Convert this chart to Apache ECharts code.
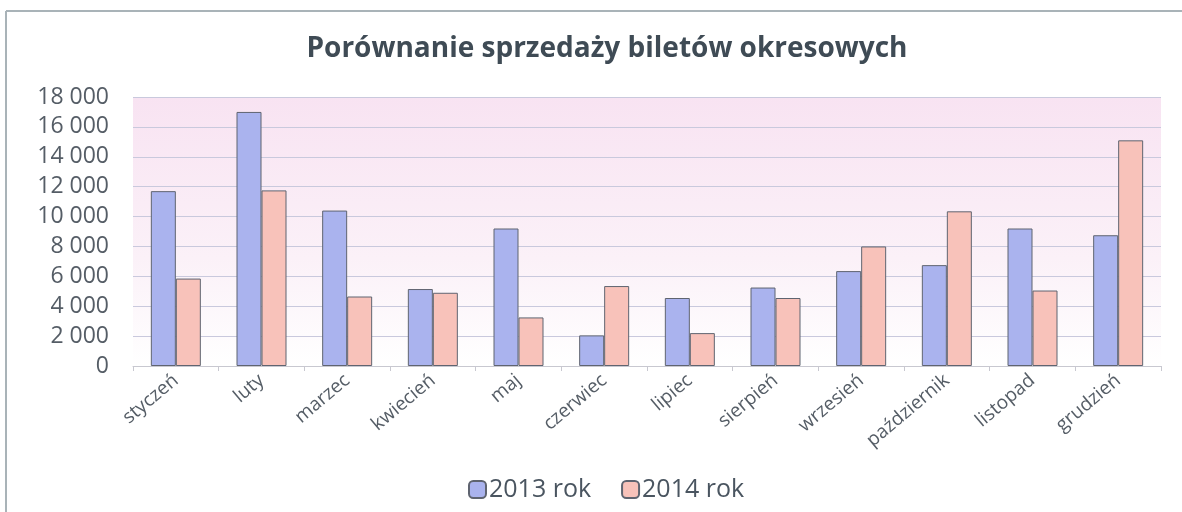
<!DOCTYPE html>
<html><head><meta charset="utf-8">
<script src="https://cdn.jsdelivr.net/npm/echarts@6/dist/echarts.min.js"></script>
<style>html,body{margin:0;padding:0;background:#fff}#c{width:1182px;height:512px}</style>
</head><body><div id="c"></div>
<script>
const categories = ['styczeń','luty','marzec','kwiecień','maj','czerwiec','lipiec','sierpień','wrzesień','październik','listopad','grudzień'];
const series2013 = [11700,17000,10400,5150,9200,2050,4550,5250,6350,6750,9200,8750];
const series2014 = [5850,11750,4650,4900,3250,5350,2200,4550,8000,10350,5050,15100];
const seriesNames = ['2013 rok','2014 rok'];
const titleText = 'Porównanie sprzedaży biletów okresowych';

const chart = echarts.init(document.getElementById('c'));
const font = 'Open Sans, DejaVu Sans, sans-serif';
chart.setOption({
  backgroundColor: '#fff',
  animation: false,
  title: {text: titleText, left: 602, top: 30, textAlign: 'center',
    textStyle: {fontFamily: font, fontSize: 28, fontWeight: 'bold', color: '#3f4b55'}},
  legend: {top: 472, left: 463, itemWidth: 17, itemHeight: 17, itemGap: 30,
    textStyle: {fontFamily: font, fontSize: 25, color: '#4a5560', padding: [0,0,0,-2]},
    data: seriesNames},
  grid: {left: 133, right: 21, top: 97, bottom: 146, containLabel: false,
    show: true, borderWidth: 0,
    backgroundColor: new echarts.graphic.LinearGradient(0,0,0,1,[
      {offset:0,color:'#f8e3f2'},{offset:0.6,color:'#fbf1f8'},{offset:1,color:'#ffffff'}])},
  xAxis: {type: 'category', data: categories,
    axisLine: {lineStyle: {color: '#c8c8d0'}},
    axisTick: {show: true, lineStyle: {color: '#c8c8d0'}},
    axisLabel: {rotate: 40, fontFamily: font, fontSize: 19, color: '#555d66', margin: 12, interval: 0}},
  yAxis: {type: 'value', min: 0, max: 18000, interval: 2000,
    axisLine: {show: false}, axisTick: {show: false},
    axisLabel: {fontFamily: font, fontSize: 23, color: '#555d66', margin: 24,
      formatter: v => v === 0 ? '0' : v.toString().replace(/\B(?=(\d{3})+(?!\d))/g, ' ')},
    splitLine: {lineStyle: {color: '#c9c9dd', width: 1}}},
  series: [
    {name: seriesNames[0], type: 'bar', data: series2013, barWidth: 25, barGap: '0%',
      itemStyle: {color: '#aab3ee', borderColor: '#5f6470', borderWidth: 1}},
    {name: seriesNames[1], type: 'bar', data: series2014, barWidth: 25,
      itemStyle: {color: '#f8c2ba', borderColor: '#5f6470', borderWidth: 1}}
  ],
  graphic: [
    {type: 'line', shape: {x1: 6, y1: 11, x2: 1182, y2: 11}, style: {stroke: '#a9b3b8', lineWidth: 2}},
    {type: 'line', shape: {x1: 6, y1: 11, x2: 6, y2: 512}, style: {stroke: '#a9b3b8', lineWidth: 2}}
  ]
});
</script></body></html>
